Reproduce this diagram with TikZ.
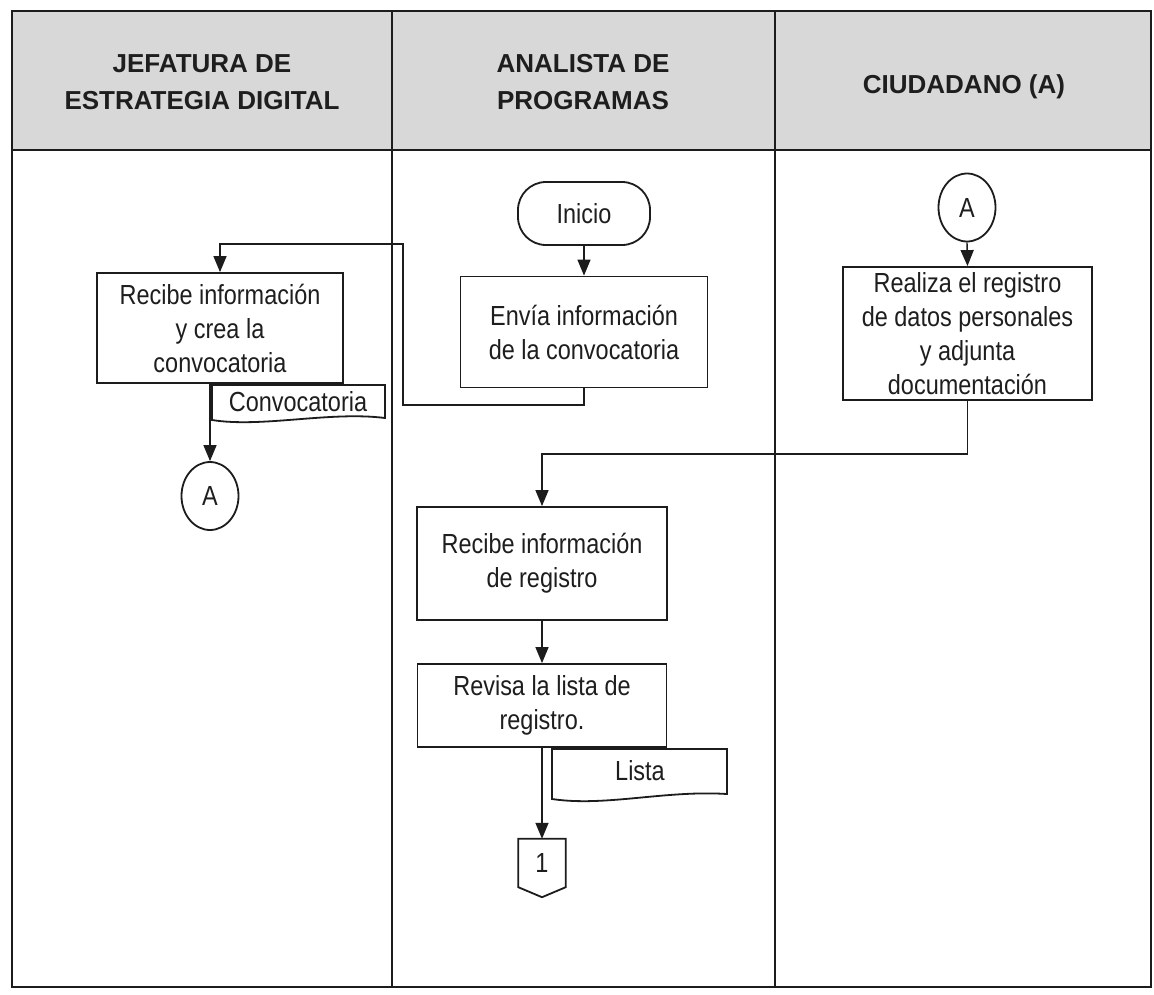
\documentclass[tikz,border=0pt]{standalone}
\usepackage{fontspec}
\setmainfont{Liberation Sans}[FakeStretch=0.85]
\newfontfamily\hdfont{Liberation Sans}
\usetikzlibrary{arrows.meta,shapes.geometric,calc}
\definecolor{hdgray}{RGB}{216,216,216}
\definecolor{ln}{RGB}{28,28,28}
\definecolor{tx}{RGB}{30,30,30}
\newcommand{\bodyfont}{\fontsize{27.6}{34}\selectfont}
\newcommand{\headfont}{\hdfont\bfseries\fontsize{26}{37}\selectfont}
\begin{document}
\begin{tikzpicture}[x=1pt,y=-1pt,
  box/.style={draw=ln, line width=1.8pt, fill=white, inner sep=0pt, align=center, font=\bodyfont, text=tx},
  conn/.style={draw=ln, line width=1.4pt},
  arr/.style={conn, -{Triangle[length=16pt,width=13pt]}},
  hd/.style={align=center, font=\headfont, text=tx, inner sep=0pt},
  oval/.style={ellipse, draw=ln, line width=1.8pt, fill=white, inner sep=0pt, font=\bodyfont, text=tx, minimum width=57pt, minimum height=68pt},
  docshape/.style={draw=ln, line width=1.8pt, fill=white},
  doctext/.style={font=\bodyfont, text=tx, inner sep=0pt}]
\useasboundingbox (0,0) rectangle (1154,994);
\fill[white] (0,0) rectangle (1154,994);
% table
\fill[hdgray] (12,11) rectangle (1151,150);
\draw[ln, line width=2.2pt] (12,11) rectangle (1151,987);
\draw[ln, line width=2.2pt] (12,150) -- (1151,150);
\draw[ln, line width=1.8pt] (392,11) -- (392,987);
\draw[ln, line width=1.8pt] (775,11) -- (775,987);
% headers
\node[hd] (h1) at (202,82) {JEFATURA DE\\ESTRATEGIA DIGITAL};
\node[hd] (h2) at (583,82) {ANALISTA DE\\PROGRAMAS};
\node[hd] (h3) at (964,87) {CIUDADANO (A)};
% nodes
\node[box, rounded corners=28pt, minimum width=132pt, minimum height=63pt] (ini) at (584,213.5) {Inicio};
\node[box, minimum width=247pt, minimum height=111pt] (env) at (584,332) {Envía información\\de la convocatoria};
\node[box, minimum width=246pt, minimum height=110pt] (b1) at (220,328) {Recibe información\\y crea la\\convocatoria};
\node[oval] (a1) at (210,496) {A};
\node[oval] (a2) at (967,207.5) {A};
\node[box, minimum width=249pt, minimum height=133pt] (b3) at (967.5,333.5) {Realiza el registro\\de datos personales\\y adjunta\\documentación};
\node[box, minimum width=250pt, minimum height=113pt] (b4) at (542,563.5) {Recibe información\\de registro};
\node[box, minimum width=249pt, minimum height=83pt] (b5) at (542,705.5) {Revisa la lista de\\registro.};
\node[inner sep=0pt, minimum width=47pt, minimum height=48pt, font=\bodyfont, text=tx] (op) at (542,863) {1};
\draw[ln, line width=1.8pt] (op.north west) -- (op.north east) -- (op.south east) -- ($(op.south)+(0,10)$) -- (op.south west) -- cycle;
% documents
\draw[docshape] (212,385) -- (385,385) -- (385,418) .. controls (330,411) and (262,428) .. (212,420) -- cycle;
\node[doctext] (d1) at (298,402) {Convocatoria};
\draw[docshape] (552,749) -- (727,749) -- (727,794) .. controls (665,790) and (605,807) .. (552,799) -- cycle;
\node[doctext] (d2) at (640,771) {Lista};
% connectors
\coordinate (r1) at (403,405);
\coordinate (r2) at (403,244);
\draw[arr] (ini.south) -- (env.north);
\draw[arr] (env.south) |- (r1) -- (r2) -| (b1.north);
\draw[arr] (b1.south -| a1) -- (a1.north);
\draw[arr] (a2.south) -- (b3.north);
\draw[arr] (b3.south) -- ++(0,53) -| (b4.north);
\draw[arr] (b4.south) -- (b5.north);
\draw[arr] (b5.south) -- (op.north);
\end{tikzpicture}
\end{document}
